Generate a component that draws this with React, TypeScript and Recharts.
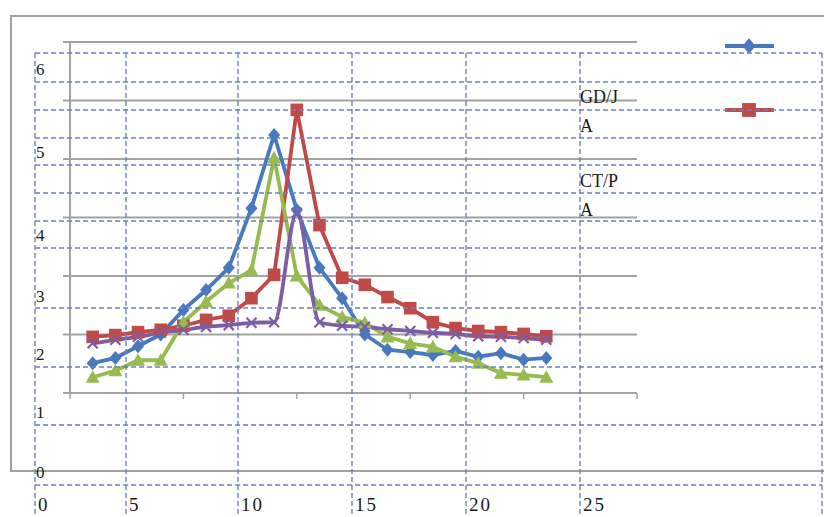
import { LineChart, Line, XAxis, YAxis, CartesianGrid, Legend } from "recharts";

// x positions of the 21 samples
const xValues = [1, 2, 3, 4, 5, 6, 7, 8, 9, 10, 11, 12, 13, 14, 15, 16, 17, 18, 19, 20, 21];

// series values
const blueValues = [1.51, 1.6, 1.8, 2.0, 2.42, 2.76, 3.14, 4.16, 5.41, 4.13, 3.14, 2.62, 2.0, 1.74, 1.7, 1.65, 1.72, 1.62, 1.68, 1.57, 1.6];
const redValues = [1.96, 1.99, 2.04, 2.08, 2.15, 2.25, 2.32, 2.62, 3.02, 5.84, 3.87, 2.97, 2.85, 2.64, 2.45, 2.21, 2.11, 2.06, 2.04, 2.01, 1.97];
const greenValues = [1.27, 1.38, 1.56, 1.56, 2.21, 2.56, 2.88, 3.1, 5.02, 3.0, 2.5, 2.3, 2.2, 1.96, 1.85, 1.79, 1.62, 1.51, 1.34, 1.31, 1.27];
const purpleValues = [1.85, 1.91, 1.96, 2.03, 2.08, 2.13, 2.16, 2.2, 2.21, 4.08, 2.21, 2.15, 2.13, 2.09, 2.06, 2.03, 2.01, 1.97, 1.96, 1.94, 1.91];

const seriesNames = ["Series1", "GD/J A", "CT/P A", "Series4"];

// axis ticks of the inner chart
const innerXTicks = [0, 5, 10, 15, 20, 25];
const innerYTicks = [1, 2, 3, 4, 5, 6, 7];

// the dashed overlay grid and its labels
const overlayCols = [35, 126, 238, 352, 466, 580, 822];
const overlayRows = [53, 82, 110, 138, 165, 193, 221, 248, 308, 367, 425, 485];
const overlayYLabels = ["6", "5", "4", "3", "2", "1", "0"];
const overlayYBaselines = [75, 158, 241, 302, 360, 418, 478];
const overlayXLabels = ["0", "5", "10", "15", "20", "25"];

const data = xValues.map((x, i) => ({
  x,
  s1: blueValues[i],
  s2: redValues[i],
  s3: greenValues[i],
  s4: purpleValues[i],
}));

const BLUE = "#4679c0";
const RED = "#c04a47";
const GREEN = "#97bb4f";
const PURPLE = "#7c5ea6";
const AXIS = "#a3a3a3";
const DASH = "#6a82bf";
const FONT = "'Liberation Serif', 'Times New Roman', serif";
const LINE_W = 3.8;

type Shape = "diamond" | "square" | "triangle" | "cross";

function marker(shape: Shape, cx: number, cy: number, color: string, s = 1) {
  if (shape === "diamond") {
    const h = 7 * s;
    const w = 6 * s;
    return <path d={`M${cx},${cy - h}L${cx + w},${cy}L${cx},${cy + h}L${cx - w},${cy}Z`} fill={color} />;
  }
  if (shape === "square") {
    const h = 6.3 * s;
    return <rect x={cx - h} y={cy - h} width={h * 2} height={h * 2} fill={color} />;
  }
  if (shape === "triangle") {
    const h = 7 * s;
    return <path d={`M${cx},${cy - h}L${cx + h},${cy + h * 0.8}L${cx - h},${cy + h * 0.8}Z`} fill={color} />;
  }
  const h = 5 * s;
  return (
    <g stroke={color} strokeWidth={2.2}>
      <line x1={cx - h} y1={cy - h} x2={cx + h} y2={cy + h} />
      <line x1={cx - h} y1={cy + h} x2={cx + h} y2={cy - h} />
    </g>
  );
}

const dot = (shape: Shape, color: string) => (props: any) => {
  const { cx, cy, index } = props;
  if (cx == null || cy == null) return <g key={index} />;
  return <g key={index}>{marker(shape, cx, cy, color)}</g>;
};

// only the first two legend icons are visible in the picture
const legendKeys = ["s1", "s2"];
const legendShapes: Shape[] = ["diamond", "square"];

const renderLegend = (props: any) => {
  const payload = props.payload || [];
  return (
    <svg width={240} height={200} style={{ overflow: "visible" }}>
      {legendKeys.map((k, i) => {
        const entry = payload.find((p: any) => p.dataKey === k);
        const color = entry ? entry.color : "#000";
        const y = 16 + i * 64;
        return (
          <g key={k}>
            <line x1={150} x2={199} y1={y} y2={y} stroke={color} strokeWidth={LINE_W} />
            {marker(legendShapes[i], 174, y, color, 1.1)}
          </g>
        );
      })}
      {[seriesNames[1], seriesNames[2]].map((name, i) => {
        const parts = name.split(" ");
        const y = 73 + i * 84;
        return (
          <text key={name} x={5} y={y} fontFamily={FONT} fontSize={18} fill="#1a1a1a">
            <tspan x={5}>{parts[0]}</tspan>
            <tspan x={5} dy={29}>{parts[1]}</tspan>
          </text>
        );
      })}
    </svg>
  );
};

export default function App() {
  return (
    <div
      style={{
        position: "absolute",
        left: 0,
        top: 0,
        width: 824,
        height: 517,
        background: "#fff",
        overflow: "hidden",
      }}
    >
      <div
        style={{
          position: "absolute",
          left: 10,
          top: 15,
          width: 830,
          height: 453,
          border: "2px solid #a0a0a0",
        }}
      />

      <div style={{ position: "absolute", left: 0, top: 0 }}>
        <LineChart width={824} height={517} data={data} margin={{ top: 42, right: 187, bottom: 94, left: 10 }}>
          <CartesianGrid vertical={false} stroke={AXIS} strokeWidth={2} />
          <XAxis
            dataKey="x"
            type="number"
            domain={[0, 25]}
            ticks={innerXTicks}
            height={30}
            tickSize={6}
            tickFormatter={() => ""}
            axisLine={{ stroke: AXIS, strokeWidth: 2 }}
            tickLine={{ stroke: AXIS, strokeWidth: 1.5 }}
          />
          <YAxis
            type="number"
            domain={[1, 7]}
            ticks={innerYTicks}
            width={60}
            tickSize={7}
            tickFormatter={() => ""}
            axisLine={{ stroke: AXIS, strokeWidth: 2 }}
            tickLine={{ stroke: AXIS, strokeWidth: 2 }}
          />
          <Legend
            layout="horizontal"
            verticalAlign="middle"
            align="center"
            content={renderLegend}
            wrapperStyle={{ position: "absolute", left: 575, top: 30, width: 240, height: 200 }}
          />
          <Line type="linear" dataKey="s1" name={seriesNames[0]} stroke={BLUE} strokeWidth={LINE_W} dot={dot("diamond", BLUE)} isAnimationActive={false} />
          <Line type="linear" dataKey="s2" name={seriesNames[1]} stroke={RED} strokeWidth={LINE_W} dot={dot("square", RED)} isAnimationActive={false} />
          <Line type="linear" dataKey="s3" name={seriesNames[2]} stroke={GREEN} strokeWidth={LINE_W} dot={dot("triangle", GREEN)} isAnimationActive={false} />
          <Line type="monotone" dataKey="s4" name={seriesNames[3]} stroke={PURPLE} strokeWidth={LINE_W} dot={dot("cross", PURPLE)} isAnimationActive={false} />
        </LineChart>
      </div>

      <div style={{ position: "absolute", left: 0, top: 0, pointerEvents: "none" }}>
        <LineChart width={824} height={517} data={data} margin={{ top: 53, right: 2, bottom: 0, left: 35 }}>
          <XAxis dataKey="x" type="number" hide domain={[0, 25]} />
          <YAxis hide domain={[1, 7]} />
          <CartesianGrid
            horizontalPoints={overlayRows}
            verticalPoints={overlayCols}
            stroke={DASH}
            strokeDasharray="5 3"
            strokeWidth={1.4}
          />
          {overlayYLabels.map((t, i) => (
            <text key={"y" + t} x={36} y={overlayYBaselines[i]} fontFamily={FONT} fontSize={17} fill="#1a1a1a">
              {t}
            </text>
          ))}
          {overlayXLabels.map((t, i) => (
            <text key={"x" + t} x={overlayCols[i] + 3} y={511} fontFamily={FONT} fontSize={19} letterSpacing={2} fill="#1a1a1a">
              {t}
            </text>
          ))}
        </LineChart>
      </div>
    </div>
  );
}
